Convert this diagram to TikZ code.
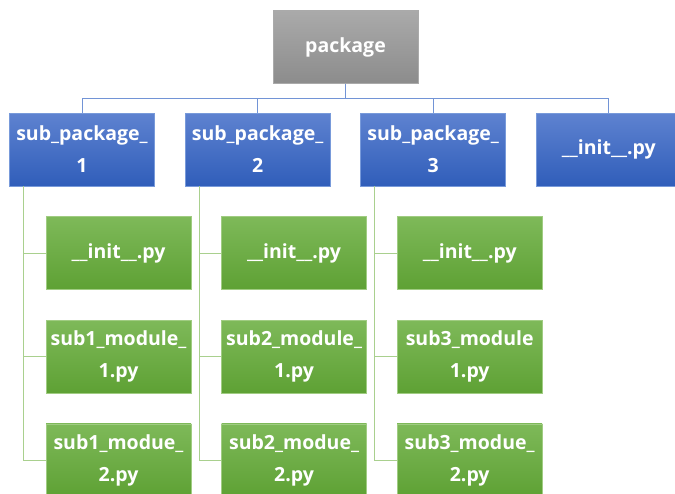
\documentclass[tikz,border=0pt]{standalone}
\usepackage{fontspec}
\setmainfont{Open Sans}
\usetikzlibrary{positioning}
\definecolor{pkgtop}{RGB}{170,170,170}
\definecolor{pkgbot}{RGB}{140,140,140}
\definecolor{subtop}{RGB}{94,130,208}
\definecolor{subbot}{RGB}{48,94,186}
\definecolor{subedge}{RGB}{120,154,218}
\definecolor{modtop}{RGB}{126,185,89}
\definecolor{modbot}{RGB}{94,161,52}
\definecolor{modedge}{RGB}{160,204,130}
\definecolor{treeblue}{RGB}{114,148,214}
\definecolor{treegreen}{RGB}{169,208,142}
\tikzset{
    box/.style={rectangle, minimum width=145pt, minimum height=73pt, inner sep=0pt, align=center, text=white, font=\fontsize{19.5}{32}\selectfont\bfseries, line width=0.6pt},
    pkgbox/.style={box, top color=pkgtop, bottom color=pkgbot, draw=pkgtop},
    subbox/.style={box, top color=subtop, bottom color=subbot, draw=subedge},
    modbox/.style={box, top color=modtop, bottom color=modbot, draw=modedge},
    bluelink/.style={draw=treeblue, line width=1pt},
    greenlink/.style={draw=treegreen, line width=1pt}
}
\begin{document}
\begin{tikzpicture}[x=1pt, y=-1pt, node distance=30pt and 30pt]
        \clip (0,0) rectangle (675,493);
        \useasboundingbox (0,0) rectangle (675,493);

        % Radice
        \node (pkg) [pkgbox] at (345.5,47) {package};

        % Sottopacchetti
        \node (sub1) [subbox] at (82,149.5) {sub\_package\_\\1};
        \node (sub2) [subbox, right=of sub1] {sub\_package\_\\2};
        \node (sub3) [subbox, right=of sub2] {sub\_package\_\\3};
        \node (init0) [subbox, right=of sub3] {\_\_init\_\_.py};

        % Moduli
        \node (init1) [modbox, below=of sub1, xshift=36.5pt] {\_\_init\_\_.py};
        \node (mod1a) [modbox, below=of init1] {sub1\_module\_\\1.py};
        \node (mod1b) [modbox, below=of mod1a] {sub1\_modue\_\\2.py};
        \node (init2) [modbox, below=of sub2, xshift=36.5pt] {\_\_init\_\_.py};
        \node (mod2a) [modbox, below=of init2] {sub2\_module\_\\1.py};
        \node (mod2b) [modbox, below=of mod2a] {sub2\_modue\_\\2.py};
        \node (init3) [modbox, below=of sub3, xshift=36.5pt] {\_\_init\_\_.py};
        \node (mod3a) [modbox, below=of init3] {sub3\_module\\1.py};
        \node (mod3b) [modbox, below=of mod3a] {sub3\_modue\_\\2.py};

        % Collegamenti
        \foreach \s in {sub1, sub2, sub3, init0}
            \draw [bluelink] (pkg.south) -- ++(0,-15pt) -| (\s.north);
        \foreach \s/\a/\b/\c in {sub1/init1/mod1a/mod1b, sub2/init2/mod2a/mod2b, sub3/init3/mod3a/mod3b} {
            \draw [greenlink] ([xshift=14.5pt]\s.south west) |- (\a.west);
            \draw [greenlink] ([xshift=14.5pt]\s.south west) |- (\b.west);
            \draw [greenlink] ([xshift=14.5pt]\s.south west) |- (\c.west);
        }

    \end{tikzpicture}
\end{document}
